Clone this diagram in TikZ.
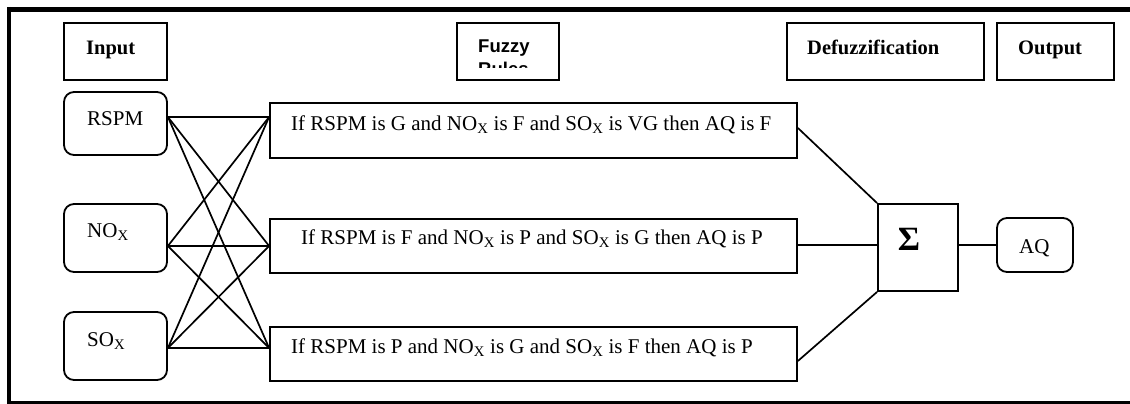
\documentclass[tikz,border=0pt]{standalone}
\usepackage{fontspec}
\setmainfont{Liberation Serif}
\newfontfamily\arialfont{Liberation Sans}
\begin{document}
\begin{tikzpicture}[x=1pt,y=-1pt,
  box/.style={draw, line width=1.8pt, rectangle, inner sep=0pt},
  rbox/.style={box, rounded corners=10pt},
  txt/.style={anchor=base west, inner sep=0pt, font=\fontsize{21}{25}\selectfont},
  head/.style={txt, font=\fontsize{20.5}{25}\selectfont\bfseries},
  link/.style={line width=1.7pt}]
\useasboundingbox (0,0) rectangle (1130,404);
\clip (0,0) rectangle (1130,404);

% outer frame (right side runs past the page)
\draw[line width=4.5pt] (9,9.5) -- (1140,9.5);
\draw[line width=4pt] (9,7) -- (9,404);
\draw[line width=2.5pt] (9,402.5) -- (1140,402.5);

% column headings
\node[box, minimum width=103pt, minimum height=57pt] (hin)  at (115.5,51.5) {};
\node[box, minimum width=102pt, minimum height=57pt] (hfr)  at (508,51.5) {};
\node[box, minimum width=197pt, minimum height=57pt] (hdef) at (885.5,51.5) {};
\node[box, minimum width=117pt, minimum height=57pt] (hout) at (1055.5,51.5) {};
\node[head] (thin) at (86,55) {Input};
\node[head] (thdef) at (807,55) {Defuzzification};
\node[head] (thout) at (1018,55) {Output};
\begin{scope}
  \clip (457,23) rectangle (559,68);
  \node[anchor=base west, inner sep=0pt, font=\arialfont\bfseries\fontsize{18.5}{22}\selectfont] (thfr1) at (478,53) {Fuzzy};
  \node[anchor=base west, inner sep=0pt, font=\arialfont\bfseries\fontsize{18.5}{22}\selectfont] (thfr2) at (478,75) {Rules};
\end{scope}

% inputs
\node[rbox, minimum width=103pt, minimum height=63pt] (rspm) at (115.5,123.5) {};
\node[rbox, minimum width=103pt, minimum height=68pt] (nox)  at (115.5,238) {};
\node[rbox, minimum width=103pt, minimum height=68pt] (sox)  at (115.5,346) {};
\node[txt] (trspm) at (87,125) {RSPM};
\node[txt] (tnox)  at (87,237) {NO\textsubscript{X}};
\node[txt] (tsox)  at (87,346) {SO\textsubscript{X}};

% rules
\node[box, minimum width=527pt, minimum height=55pt] (r1) at (533.5,130.5) {};
\node[box, minimum width=527pt, minimum height=54pt] (r2) at (533.5,246) {};
\node[box, minimum width=527pt, minimum height=54pt] (r3) at (533.5,354) {};
\node[txt] (tr1) at (291,130) {If RSPM is G and NO\textsubscript{X} is F and SO\textsubscript{X} is VG then AQ is F};
\node[txt] (tr2) at (301,244.5) {If RSPM is F and NO\textsubscript{X} is P and SO\textsubscript{X} is G then AQ is P};
\node[txt] (tr3) at (291,353) {If RSPM is P and NO\textsubscript{X} is G and SO\textsubscript{X} is F then AQ is P};

% defuzzifier and output
\node[box, minimum width=80pt, minimum height=87pt] (sum) at (918,247.5) {};
\node[inner sep=0pt, font=\fontsize{34}{38}\selectfont\bfseries] (tsum) at (909,239.5) {Σ};
\node[rbox, minimum width=76pt, minimum height=54pt] (aq) at (1035,245) {};
\node[txt] (taq) at (1019,253) {AQ};

% attachment points
\coordinate (o1) at (rspm.east |- 0,117);
\coordinate (o2) at (nox.east |- 0,246);
\coordinate (o3) at (sox.east |- 0,348);
\coordinate (i1) at (r1.west |- 0,117);
\coordinate (i2) at (r2.west |- 0,246);
\coordinate (i3) at (r3.west |- 0,348);
\coordinate (e1) at (r1.east |- 0,128);
\coordinate (e2) at (r2.east |- 0,245);
\coordinate (e3) at (r3.east |- 0,361);

% every input feeds every rule
\foreach \a in {o1,o2,o3}
  \foreach \b in {i1,i2,i3}
    \draw[link] (\a) -- (\b);

% rules into the summation
\draw[link] (e1) -- (sum.north west);
\draw[link] (e2) -- (sum.west |- e2);
\draw[link] (e3) -- (sum.south west);
\draw[link] (sum.east |- aq.west) -- (aq.west);
\end{tikzpicture}
\end{document}
